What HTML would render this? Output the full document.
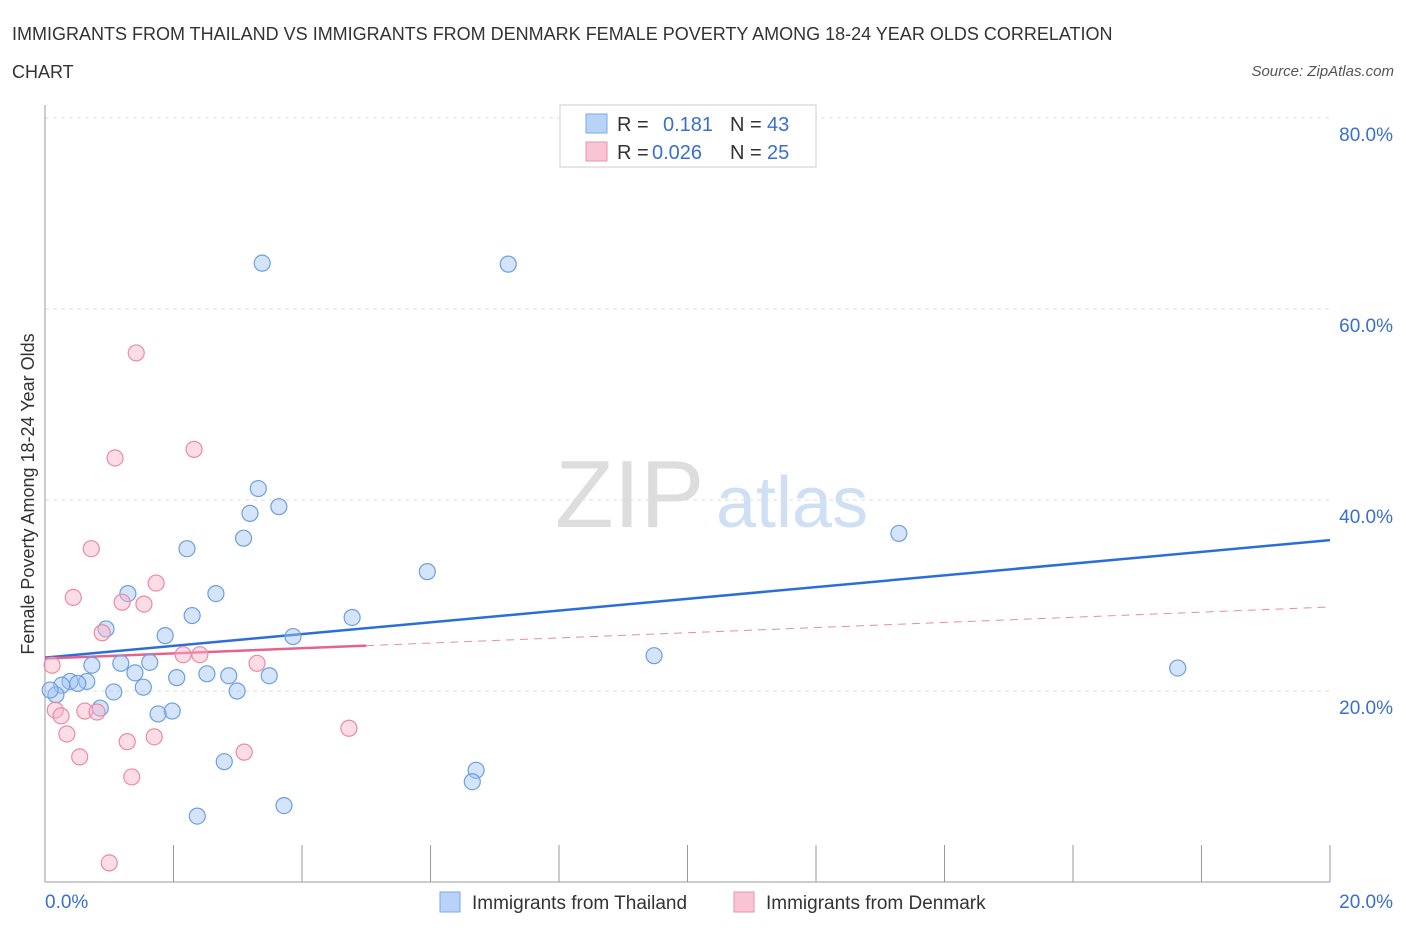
<!DOCTYPE html>
<html><head><meta charset="utf-8"><style>
body{margin:0;background:#fff;font-family:"Liberation Sans",sans-serif;}
svg text{font-family:"Liberation Sans",sans-serif;}
</style></head><body>
<svg id="chart" width="1406" height="930" xmlns="http://www.w3.org/2000/svg">
<text x="12" y="40" font-size="18" fill="#333">IMMIGRANTS FROM THAILAND VS IMMIGRANTS FROM DENMARK FEMALE POVERTY AMONG 18-24 YEAR OLDS CORRELATION</text>
<text x="12" y="78" font-size="18" fill="#333">CHART</text>
<text x="1394" y="76" font-size="15" fill="#555" text-anchor="end" font-style="italic">Source: ZipAtlas.com</text>
<text x="555" y="527" font-size="96" fill="#ddd" font-family="Liberation Serif">ZIP</text>
<text x="716" y="527" font-size="72" fill="#cfe0f5">atlas</text>
<text transform="translate(34,494) rotate(-90)" font-size="18" fill="#333" text-anchor="middle">Female Poverty Among 18-24 Year Olds</text>
<g id="grid"></g><g id="trend"></g><g id="pts"></g>
<g>
<rect x="560" y="105" width="256" height="62" fill="#fff" stroke="#ccc"/>
<rect x="586" y="114" width="21" height="19" fill="#b8d3f7" stroke="#7aaae8"/>
<rect x="586" y="142" width="21" height="19" fill="#f9c4d4" stroke="#eb92ad"/>
<text x="617" y="131" font-size="20" fill="#333">R = </text><text x="663" y="131" font-size="20" fill="#3a6fd0">0.181</text>
<text x="730" y="131" font-size="20" fill="#333">N = </text><text x="767" y="131" font-size="20" fill="#3a6fd0">43</text>
<text x="617" y="159" font-size="20" fill="#333">R = </text><text x="652" y="159" font-size="20" fill="#3a6fd0">0.026</text>
<text x="730" y="159" font-size="20" fill="#333">N = </text><text x="767" y="159" font-size="20" fill="#3a6fd0">25</text>
</g>
<g>
<rect x="440" y="892" width="20" height="20" fill="#b8d3f7" stroke="#7aaae8"/>
<text x="472" y="909" font-size="19" fill="#333">Immigrants from Thailand</text>
<rect x="734" y="892" width="20" height="20" fill="#f9c4d4" stroke="#eb92ad"/>
<text x="766" y="909" font-size="19" fill="#333">Immigrants from Denmark</text>
</g>
</svg>
<script>
const thaiX=[3.38,7.21,13.29,3.32,3.64,3.19,3.09,2.21,5.95,1.29,2.66,2.29,4.78,0.95,1.87,3.86,9.48,1.63,1.18,0.73,1.40,17.63,2.52,2.86,3.49,2.05,0.65,0.39,0.51,0.26,1.53,1.07,2.99,0.17,0.08,0.86,1.98,1.76,2.79,6.71,6.65,3.72,2.37];
const thaiY=[64.8,64.7,36.5,41.2,39.3,38.6,36.0,34.9,32.5,30.2,30.2,27.9,27.7,26.5,25.8,25.7,23.7,23.0,22.9,22.7,21.9,22.4,21.8,21.6,21.6,21.4,21.0,21.0,20.8,20.6,20.4,19.9,20.0,19.6,20.1,18.2,17.9,17.6,12.6,11.7,10.5,8.0,6.9];
const denX=[1.42,2.32,1.09,0.72,1.73,0.44,1.20,1.54,0.89,2.15,2.41,3.30,0.11,0.16,0.62,0.81,0.25,0.34,1.70,1.28,4.73,3.10,0.54,1.35,1.00];
const denY=[55.4,45.3,44.4,34.9,31.3,29.8,29.3,29.1,26.1,23.8,23.8,22.9,22.7,18.0,17.9,17.8,17.4,15.5,15.2,14.7,16.1,13.6,13.1,11.0,2.0];
const yTicks=[20,40,60,80];
const yTickLabels=["20.0%","40.0%","60.0%","80.0%"];
const xTicks=[0,2,4,6,8,10,12,14,16,18,20];
const thaiTrend=[23.5,35.8];
const denTrend=[23.4,28.8];
const denSolidEnd=5.0;
const NS="http://www.w3.org/2000/svg";
const sx=v=>45+v/20*1285;
const sy=v=>882-v/80*764;
function mk(t,a,p){const e=document.createElementNS(NS,t);for(const k in a)e.setAttribute(k,a[k]);p.appendChild(e);return e;}
const grid=document.getElementById('grid');
yTicks.forEach((t,i)=>{
 const l=mk('line',{x1:45,x2:1330,y1:sy(t),y2:sy(t),stroke:'#ddd','stroke-dasharray':'4,4'},grid);
 
 
 const tx=mk('text',{x:1393,y:sy(t)+23,'font-size':19,fill:'#3a6fd0','text-anchor':'end'},grid);
 tx.textContent=yTickLabels[i];
 
 
});
const ax=mk('line',{x1:45,x2:45,y1:105,y2:882,stroke:'#999'},grid);


const bx=mk('line',{x1:45,x2:1330,y1:882,y2:882,stroke:'#999'},grid);


xTicks.forEach(t=>{const l=mk('line',{x1:sx(t),x2:sx(t),y1:845,y2:882,stroke:'#999'},grid);
 
 });
[[0,'0.0%','start',45],[20,'20.0%','end',1393]].forEach(d=>{const t=mk('text',{x:d[3],y:908,'font-size':19,fill:'#3a6fd0','text-anchor':d[2]},grid);t.textContent=d[1];
 
 });
const pts=document.getElementById('pts');
thaiX.forEach((x,i)=>{const c=mk('circle',{cx:sx(x),cy:sy(thaiY[i]),r:8,fill:'rgba(160,196,245,0.45)',stroke:'#6d9fe0','stroke-width':1.2},pts);
 
 });
denX.forEach((x,i)=>{const c=mk('circle',{cx:sx(x),cy:sy(denY[i]),r:8,fill:'rgba(248,180,200,0.45)',stroke:'#e98aa8','stroke-width':1.2},pts);
 
 });
const tr=document.getElementById('trend');
const t1=mk('line',{x1:sx(0),y1:sy(thaiTrend[0]),x2:sx(20),y2:sy(thaiTrend[1]),stroke:'#2b6fd6','stroke-width':2.5},tr);


const dm=denTrend[0]+(denTrend[1]-denTrend[0])*denSolidEnd/20;
const t2=mk('line',{x1:sx(0),y1:sy(denTrend[0]),x2:sx(denSolidEnd),y2:sy(dm),stroke:'#e5648e','stroke-width':2.5},tr);


const t3=mk('line',{x1:sx(denSolidEnd),y1:sy(dm),x2:sx(20),y2:sy(denTrend[1]),stroke:'#e98aa8','stroke-width':1,'stroke-dasharray':'8,6'},tr);


</script>
</body></html>
